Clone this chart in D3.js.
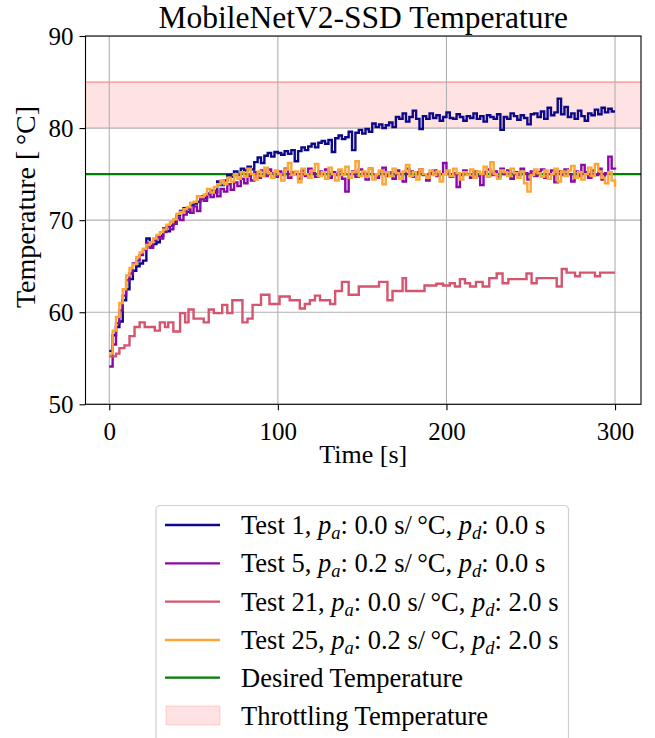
<!DOCTYPE html>
<html>
<head>
<meta charset="utf-8">
<script src="https://cdn.jsdelivr.net/npm/d3@7"></script>
<style>
body { margin: 0; background: #fff; }
svg { display: block; }
text { font-family: "Liberation Serif", "Times New Roman", serif; fill: #000; }
</style>
</head>
<body>
<svg id="chart" width="655" height="738"></svg>
<script>
// ---------------- DATA ----------------
const title = "MobileNetV2-SSD Temperature";
const xTicks = [0, 100, 200, 300];
const yTicks = [50, 60, 70, 80, 90];
const desiredTemp = 75;
const throttleRange = [80, 85];

// sample times (s) for Tests 1, 5, 25
const sampleTimes = [0,2,4,6,8,10,12,14,16,18,20,22,24,26,28,30,32,34,36,38,40,42,44,46,48,50,52,54,56,58,60,62,64,66,68,70,72,74,76,78,80,82,84,86,88,90,92,94,96,98,100,102,104,106,108,110,112,114,116,118,120,122,124,126,128,130,132,134,136,138,140,142,144,146,148,150,152,154,156,158,160,162,164,166,168,170,172,174,176,178,180,182,184,186,188,190,192,194,196,198,200,202,204,206,208,210,212,214,216,218,220,222,224,226,228,230,232,234,236,238,240,242,244,246,248,250,252,254,256,258,260,262,264,266,268,270,272,274,276,278,280,282,284,286,288,290,292,294,296,298,300];

const test1 = [55.8,57.5,58.4,59.0,61.3,62.5,63.6,64.5,65.0,65.3,65.6,68.0,67.2,67.4,67.6,68.3,69.1,68.8,69.4,69.8,70.5,71.0,71.3,70.9,71.6,71.8,72.0,72.6,72.4,72.9,73.2,73.0,74.2,73.8,74.3,74.9,74.7,75.3,74.9,75.6,75.4,75.8,75.5,76.3,76.8,76.2,77.0,77.3,76.9,77.4,77.3,77.1,77.5,77.2,77.6,76.4,77.5,77.9,77.6,78.0,78.3,77.9,78.4,78.6,78.3,78.7,77.4,78.9,79.2,78.8,79.0,79.6,77.6,79.5,79.8,79.4,79.9,79.6,80.5,80.1,80.4,80.0,80.3,80.6,80.1,81.2,81.0,81.6,80.7,81.2,81.9,81.0,79.9,81.3,81.0,81.6,81.1,81.4,80.8,81.2,81.7,81.1,81.0,81.5,81.2,80.8,81.3,81.1,81.6,81.0,81.3,80.7,81.4,81.2,81.0,81.5,79.8,81.2,81.0,81.6,81.3,80.9,81.4,81.1,80.4,81.5,81.6,81.2,81.8,81.0,82.2,81.4,81.7,83.2,81.5,82.3,81.2,81.6,81.0,81.9,81.3,80.8,81.6,81.4,82.0,81.5,82.2,81.7,82.1,81.8,81.8];

const test5 = [54.1,56.5,58.8,60.2,61.8,63.5,64.2,65.3,65.6,66.2,66.8,67.5,67.0,67.8,68.2,68.0,68.7,69.3,69.0,69.6,70.2,70.0,70.6,71.2,70.8,71.5,71.0,72.3,72.1,72.8,72.5,73.2,72.6,73.4,73.1,73.9,73.3,74.1,73.7,74.5,74.0,74.8,74.3,75.2,74.6,75.4,74.8,75.5,75.1,74.7,75.3,74.9,75.6,74.6,75.2,75.0,74.5,75.4,74.8,75.6,75.1,74.7,75.3,75.0,75.5,74.6,75.2,74.9,75.4,74.5,73.1,75.0,75.3,74.7,75.5,75.1,74.4,75.6,75.0,74.6,75.3,75.7,74.8,75.2,74.5,75.4,75.0,74.2,75.6,75.3,74.7,75.2,75.5,74.9,74.3,75.1,75.4,74.8,75.0,76.2,75.3,74.7,75.1,73.6,74.9,75.4,75.0,74.6,75.3,74.8,73.8,75.2,75.5,74.9,75.3,74.7,75.6,75.0,75.4,74.5,75.2,74.9,75.6,75.1,74.4,75.3,74.8,75.2,75.5,74.6,75.0,75.4,74.1,75.3,74.9,75.5,75.0,74.2,75.3,74.8,76.0,75.2,74.6,75.4,74.9,75.6,74.4,75.1,76.9,75.6,75.5];

const test25 = [55.5,58.0,59.5,61.0,62.5,64.0,64.8,65.2,66.0,66.5,66.9,67.3,67.6,68.0,68.4,68.7,69.0,69.5,69.8,70.1,70.7,70.9,71.2,71.4,71.9,72.0,72.6,72.5,72.8,73.4,73.0,73.6,73.9,74.3,73.9,74.6,74.2,75.0,74.5,75.2,74.7,75.6,75.0,74.4,75.3,74.8,75.7,75.1,74.6,75.4,75.0,74.3,75.5,76.2,74.9,75.3,74.1,75.6,75.0,74.6,75.4,76.1,74.8,75.2,74.5,75.7,75.0,74.3,75.5,74.9,75.8,74.6,75.2,76.4,74.8,75.3,74.7,75.6,74.4,75.0,75.4,73.9,75.2,74.8,75.6,75.1,74.5,75.3,76.0,74.8,75.2,74.4,75.5,75.0,74.6,75.4,74.9,75.3,74.2,75.0,75.4,74.8,75.6,75.1,74.4,75.2,74.9,75.5,74.6,75.3,75.0,75.8,74.7,76.3,75.0,74.5,75.4,75.2,74.8,75.6,75.1,74.6,75.3,74.0,73.1,74.9,75.5,75.1,74.7,75.4,74.5,75.0,75.6,74.2,75.3,74.8,75.4,75.9,74.6,75.2,74.4,75.0,75.7,74.8,76.1,75.3,74.6,74.0,75.2,74.3,73.6];

// Test 21 has its own (slower) sample times
const test21Times = [0,4,6,9,12,15,18,21,27,30,33,35,38,42,45,47,50,56,59,62,67,70,73,79,82,85,90,95,101,107,113,116,119,122,125,131,134,138,142,148,160,165,168,174,176,187,194,198,202,205,208,211,214,217.5,221.5,225.4,229.8,233.3,236.7,247.5,250.5,253.5,265.4,268.4,271.3,276.3,279.2,288.1,291.1,300];
const test21 = [55.2,55.5,56.1,56.4,57.4,58.4,58.9,58.4,58.0,58.9,58.4,58.9,57.9,59.9,58.9,60.3,59.3,58.9,60.3,59.9,60.8,59.9,61.3,58.9,59.3,60.8,61.9,60.9,61.7,61.3,60.4,60.9,61.3,61.8,61.3,60.9,62.3,63.3,61.9,62.8,63.3,61.3,62.3,63.7,62.3,62.9,63.1,62.9,63.15,62.8,63.6,63.15,62.8,63.3,62.8,63.7,64.2,63.15,63.6,64.2,63.15,63.7,62.8,64.7,64.3,63.9,64.3,63.9,64.3,64.3];

const seriesNames = [
  ["Test 1", "0.0", "0.0"],
  ["Test 5", "0.2", "0.0"],
  ["Test 21", "0.0", "2.0"],
  ["Test 25", "0.2", "2.0"]
];
const seriesColors = ["#0d0887", "#8b0aa5", "#d5546e", "#fca636"];

// ---------------- LAYOUT ----------------
const svg = d3.select("#chart");
const L = 85.5, R = 641, T = 36, B = 404.3;
const x = d3.scaleLinear().domain([-14.1, 315.4]).range([L, R]);
const y = d3.scaleLinear().domain([50, 90]).range([B, T]);
const FONT = '"Liberation Serif", "Times New Roman", serif';

svg.append("defs").append("clipPath").attr("id", "plotclip")
  .append("rect").attr("x", L).attr("y", T).attr("width", R - L).attr("height", B - T);

const plot = svg.append("g").attr("clip-path", "url(#plotclip)");
plot.append("rect")
  .attr("x", L).attr("width", R - L)
  .attr("y", y(throttleRange[1])).attr("height", y(throttleRange[0]) - y(throttleRange[1]))
  .attr("fill", "rgba(255,0,0,0.11)");
plot.append("line")
  .attr("x1", L).attr("x2", R)
  .attr("y1", y(throttleRange[1])).attr("y2", y(throttleRange[1]))
  .attr("stroke", "rgba(255,0,0,0.35)").attr("stroke-width", 1.6);

const grid = plot.append("g").attr("stroke", "#b0b0b0").attr("stroke-width", 1.1);
xTicks.forEach(t => grid.append("line").attr("x1", x(t)).attr("x2", x(t)).attr("y1", T).attr("y2", B));
yTicks.forEach(t => grid.append("line").attr("x1", L).attr("x2", R).attr("y1", y(t)).attr("y2", y(t)));

plot.append("line")
  .attr("x1", L).attr("x2", R)
  .attr("y1", y(desiredTemp)).attr("y2", y(desiredTemp))
  .attr("stroke", "#008000").attr("stroke-width", 2.2);

const lineGen = d3.line().curve(d3.curveStepAfter).x(d => x(d[0])).y(d => y(d[1]));
const seriesData = [
  d3.zip(sampleTimes, test1),
  d3.zip(sampleTimes, test5),
  d3.zip(test21Times, test21),
  d3.zip(sampleTimes, test25)
];
seriesData.forEach((d, i) => {
  plot.append("path").datum(d)
    .attr("d", lineGen)
    .attr("fill", "none")
    .attr("stroke", seriesColors[i])
    .attr("stroke-width", 2.4);
});

const xAxis = svg.append("g").attr("transform", `translate(0,${B})`)
  .call(d3.axisBottom(x).tickValues(xTicks).tickSize(6).tickPadding(6));
const yAxis = svg.append("g").attr("transform", `translate(${L},0)`)
  .call(d3.axisLeft(y).tickValues(yTicks).tickSize(6).tickPadding(6));
[xAxis, yAxis].forEach(a => {
  a.select(".domain").remove();
  a.selectAll("line").attr("stroke", "#000").attr("stroke-width", 1.1);
  a.selectAll("text").attr("font-family", FONT).attr("font-size", 25).attr("fill", "#000");
});
xAxis.selectAll("text").attr("dy", "0.95em");
yAxis.selectAll("text").attr("dy", "0.34em");

svg.append("rect").attr("x", L).attr("y", T).attr("width", R - L).attr("height", B - T)
  .attr("fill", "none").attr("stroke", "#000").attr("stroke-width", 1.1);

svg.append("text").attr("x", (L + R) / 2).attr("y", 28)
  .attr("text-anchor", "middle").attr("font-size", 31.5).text(title);
svg.append("text").attr("x", (L + R) / 2).attr("y", 463)
  .attr("text-anchor", "middle").attr("font-size", 26).text("Time [s]");
svg.append("text")
  .attr("transform", `translate(35,207) rotate(-90)`)
  .attr("text-anchor", "middle").attr("font-size", 28).text("Temperature [\u2009°C]");

// legend
const lg = svg.append("g");
const box = lg.append("rect").attr("x", 156).attr("y", 505.5).attr("height", 260)
  .attr("rx", 4).attr("fill", "#fff").attr("stroke", "#d0d0d0").attr("stroke-width", 1.2);
const rowY = [525, 563.3, 601.7, 640, 677.7, 715.5];
const textX = 241;
const FS = 26.5;
const texts = [];
seriesNames.forEach((s, i) => {
  lg.append("line").attr("x1", 165).attr("x2", 220).attr("y1", rowY[i]).attr("y2", rowY[i])
    .attr("stroke", seriesColors[i]).attr("stroke-width", 2.3);
  const t = lg.append("text").attr("x", textX).attr("y", rowY[i] + 9).attr("font-size", FS);
  t.append("tspan").text(s[0] + ", ");
  t.append("tspan").attr("font-style", "italic").text("p");
  t.append("tspan").attr("font-style", "italic").attr("font-size", FS * 0.7).attr("dy", 5).text("a");
  t.append("tspan").attr("dy", -5).text(": " + s[1] + " s/\u2009°C, ");
  t.append("tspan").attr("font-style", "italic").text("p");
  t.append("tspan").attr("font-style", "italic").attr("font-size", FS * 0.7).attr("dy", 5).text("d");
  t.append("tspan").attr("dy", -5).text(": " + s[2] + " s");
  texts.push(t);
});
lg.append("line").attr("x1", 165).attr("x2", 220).attr("y1", rowY[4]).attr("y2", rowY[4])
  .attr("stroke", "#008000").attr("stroke-width", 2.3);
texts.push(lg.append("text").attr("x", textX).attr("y", rowY[4] + 9).attr("font-size", FS).text("Desired Temperature"));
lg.append("rect").attr("x", 166).attr("y", rowY[5] - 9.5).attr("width", 54).attr("height", 19)
  .attr("fill", "rgba(255,0,0,0.11)").attr("stroke", "rgba(255,0,0,0.15)").attr("stroke-width", 1);
texts.push(lg.append("text").attr("x", textX).attr("y", rowY[5] + 9).attr("font-size", FS).text("Throttling Temperature"));
const maxRight = d3.max(texts, t => { const b = t.node().getBBox(); return b.x + b.width; });
box.attr("width", maxRight + 10 - 156);
</script>
</body>
</html>
